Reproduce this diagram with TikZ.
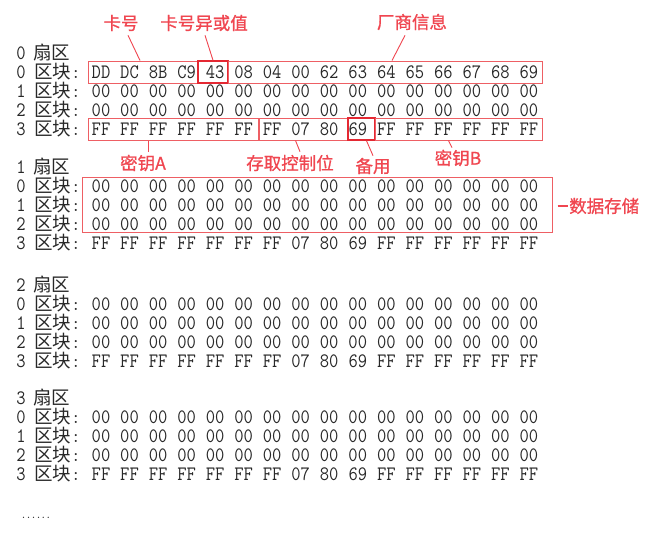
\documentclass[tikz,border=0pt]{standalone}
\usepackage{fontspec}
\usetikzlibrary{calc,fit}
\newfontfamily\cjk{Noto Sans CJK SC}
\newfontfamily\cjkm[FakeBold=0.8]{Noto Sans CJK SC}
\definecolor{txt}{RGB}{40,40,40}
\definecolor{lred}{RGB}{240,70,80}
\definecolor{bred}{RGB}{238,95,100}
\definecolor{dred}{RGB}{228,40,50}
\def\rowFF{FF,FF,FF,FF,FF,FF,FF,07,80,69,FF,FF,FF,FF,FF,FF}
\def\rowID{DD,DC,8B,C9,43,08,04,00,62,63,64,65,66,67,68,69}
\def\rowZ{00,00,00,00,00,00,00,00,00,00,00,00,00,00,00,00}
\begin{document}
\begin{tikzpicture}[x=1pt,y=-1pt,
  hex/.style={font=\ttfamily\fontsize{20.5}{20.5}\selectfont, text=txt, inner sep=0pt, anchor=base, xscale=0.88, transform shape},
  cjkf/.style={font=\cjk\fontsize{18.5}{18.5}\selectfont, text=txt, inner sep=0pt, anchor=base west},
  lab/.style={font=\cjkm\fontsize{17.5}{17.5}\selectfont, text=lred, inner sep=0pt},
  box/.style={draw=bred, line width=1pt, inner sep=0pt},
  dbox/.style={draw=dred, line width=1.5pt, inner sep=0pt},
  lead/.style={draw=lred, line width=0.9pt}]
\useasboundingbox (0,0) rectangle (656,533);
\fill[white] (0,0) rectangle (656,533);

% ---- memory dump text ----
\foreach \s/\hy in {0/53,1/167,2/285,3/398} {
  \node[hex] (s\s n) at (21,\hy+6.5) {\s};
  \node[cjkf] (s\s h) at (33,\hy+6.5) {扇区};
  \foreach \r in {0,...,3} {
    \pgfmathsetmacro\ry{\hy+19*(\r+1)+6.5}
    \node[hex] (s\s r\r n) at (21,\ry) {\r};
    \node[cjkf] (s\s r\r l) at (34,\ry) {区块{\ttfamily:}};
    \ifnum\r=3 \let\cur\rowFF
    \else\ifnum\s=0 \ifnum\r=0 \let\cur\rowID\else\let\cur\rowZ\fi
    \else\let\cur\rowZ\fi\fi
    \foreach \v [count=\k from 0] in \cur {
      \node[hex] (s\s r\r c\k) at ({101+28.53*\k},\ry) {\v};
    }
  }
}
\node[font=\ttfamily\bfseries\fontsize{9.5}{9.5}\selectfont, text=txt, inner sep=0pt] (dots) at (36,518) {......};

% ---- boxes ----
\node[box,  fit={(88,61) (198,83)}]   (bcard) {};
\node[dbox, fit={(198,61) (228,83)}]  (bxor) {};
\node[box,  fit={(228,61) (542,83)}]  (bvend) {};
\node[box,  fit={(88,118) (258,140)}] (bkeyA) {};
\node[box,  fit={(259,118) (348,140)}] (bacc) {};
\node[dbox, fit={(348,118) (375,140)}] (bspare) {};
\node[box,  fit={(375,118) (542,140)}] (bkeyB) {};
\node[box,  fit={(82,177) (552,232)}] (bdata) {};

% ---- labels ----
\node[lab] (lcard)  at (121,23)  {卡号};
\node[lab] (lxor)   at (204,23)  {卡号异或值};
\node[lab] (lvend)  at (412,22)  {厂商信息};
\node[lab] (lkeyA)  at (143,163) {密钥A};
\node[lab] (lacc)   at (290,163) {存取控制位};
\node[lab] (lspare) at (373,166) {备用};
\node[lab] (lkeyB)  at (458,158) {密钥B};
\node[lab, anchor=west] (ldata) at (569,206) {数据存储};

% ---- leaders ----
\draw[lead] ($(lcard.south)+(7,4)$) -- ($(bcard.north)+(-3,0)$);
\draw[lead] ($(lxor.south)+(1,4)$) -- (bxor.north);
\draw[lead] ($(lvend.south)+(-7,5)$) -- ($(bvend.north)+(7,0)$);
\draw[lead] ($(bkeyA.south)+(-25,0)$) -- ($(lkeyA.north)+(5,-3)$);
\draw[lead] ($(bacc.south)+(-8,0)$) -- ($(lacc.north)+(10,-3)$);
\draw[lead] ($(bspare.south)+(5,0)$) -- ($(lspare.north)+(0,-2)$);
\draw[lead] ($(bkeyB.south)+(-10,0)$) -- ($(lkeyB.north)+(-6,-2)$);
\draw[lead, line width=1.6pt] ($(bdata.east)+(5,1.5)$) -- ($(ldata.west)+(-1,0)$);
\end{tikzpicture}
\end{document}
